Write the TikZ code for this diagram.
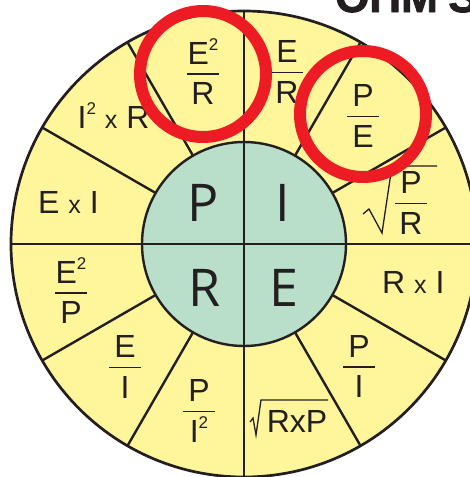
\documentclass[tikz,border=0pt]{standalone}
\usepackage{fontspec}
\usetikzlibrary{calc}
\setmainfont{Liberation Sans}
\newfontfamily\centerfont{Open Sans}
\newfontfamily\titlefont{Liberation Sans}[BoldFeatures={FakeBold=2}]
\definecolor{wheelyellow}{HTML}{FFF59B}
\definecolor{wheelgreen}{HTML}{B9DFCA}
\definecolor{ink}{HTML}{231F20}
\definecolor{ringred}{HTML}{ED1C24}
\newcommand\sq{\raisebox{14pt}{\fontsize{17}{17}\selectfont 2}}
\newcommand\xx{{\fontsize{25}{25}\selectfont x}}
\newcommand\fr[2]{{\renewcommand\arraystretch{0}\setlength\arrayrulewidth{1.5pt}%
\begin{tabular}{@{}c@{}}\makebox[32pt]{#1}\rule[-9pt]{0pt}{9pt}\\\hline\rule{0pt}{30pt}\makebox[32pt]{#2}\end{tabular}}}
\begin{document}
\begin{tikzpicture}[x=1pt,y=-1pt,
  lab/.style={inner sep=0pt,text=ink,font=\fontsize{32}{38}\selectfont},
  big/.style={inner sep=0pt,text=ink,font=\centerfont\fontsize{52}{60}\selectfont},
  divider/.style={draw=ink,line width=2.4pt},
  rad/.style={draw=ink,line width=1.3pt,line join=miter},
  ring/.style={draw=ringred,line width=12pt}]
\useasboundingbox (0,0) rectangle (470,477);
\clip (0,0) rectangle (470,477);
\coordinate (O) at (244,244);
% wheel
\fill[wheelyellow] (O) circle (233pt);
\fill[wheelgreen] (O) circle (102pt);
\foreach \a in {30,60,120,150,210,240,300,330}
  \draw[divider] ($(O)+(\a:102pt)$) -- ($(O)+(\a:233pt)$);
\draw[divider] ($(O)+(180:233pt)$) -- ($(O)+(0:233pt)$);
\draw[divider] ($(O)+(90:233pt)$) -- ($(O)+(270:233pt)$);
\draw[divider] (O) circle (102pt);
\draw[ink,line width=2.7pt] (O) circle (233pt);
% centre letters
\node[big] (cP) at (203,203) {P};
\node[big] (cI) at (283,203) {I};
\node[big] (cR) at (205,288) {R};
\node[big] (cE) at (284,288) {E};
% outer labels
\node[lab] (ER) at (287,72) {\fr{E}{R}};
\node[lab] (PE) at (363,116) {\fr{P}{E}};
\node[lab] (PR) at (411,203) {\fr{P}{R}};
\draw[rad] (363,214) -- (369,209) -- (382,233) -- (392,166) -- (437,166);
\node[lab,anchor=base west] (RI) at (382,293) {R \xx\ I};
\node[lab] (PI) at (359,366.7) {\fr{P}{I}};
\node[lab] (RxP) at (297,421.5) {RxP};
\draw[rad] (250,422) -- (253,418) -- (256,435) -- (261,400) -- (328,400);
\node[lab] (PI2) at (199,411) {\fr{P}{I\sq}};
\node[lab] (EI) at (125,367) {\fr{E}{I}};
\node[lab] (E2P) at (71,290.5) {\fr{E\sq}{P}};
\node[lab,anchor=base west] (ExI) at (38,213) {E \xx\ I};
\node[lab,anchor=base west] (I2R) at (77.5,128) {I\sq\ \xx\ R};
\node[lab] (E2R) at (203,71.5) {\fr{E\sq}{R}};
% title (cropped)
\node[inner sep=0pt,anchor=base west,text=ink,font=\titlefont\bfseries\fontsize{44}{50}\selectfont] (title) at (335,12) {OHM'S LAW};
% red rings
\draw[ring] (203,74) circle (63pt);
\draw[ring] (363,114) circle (63pt);
\end{tikzpicture}
\end{document}
